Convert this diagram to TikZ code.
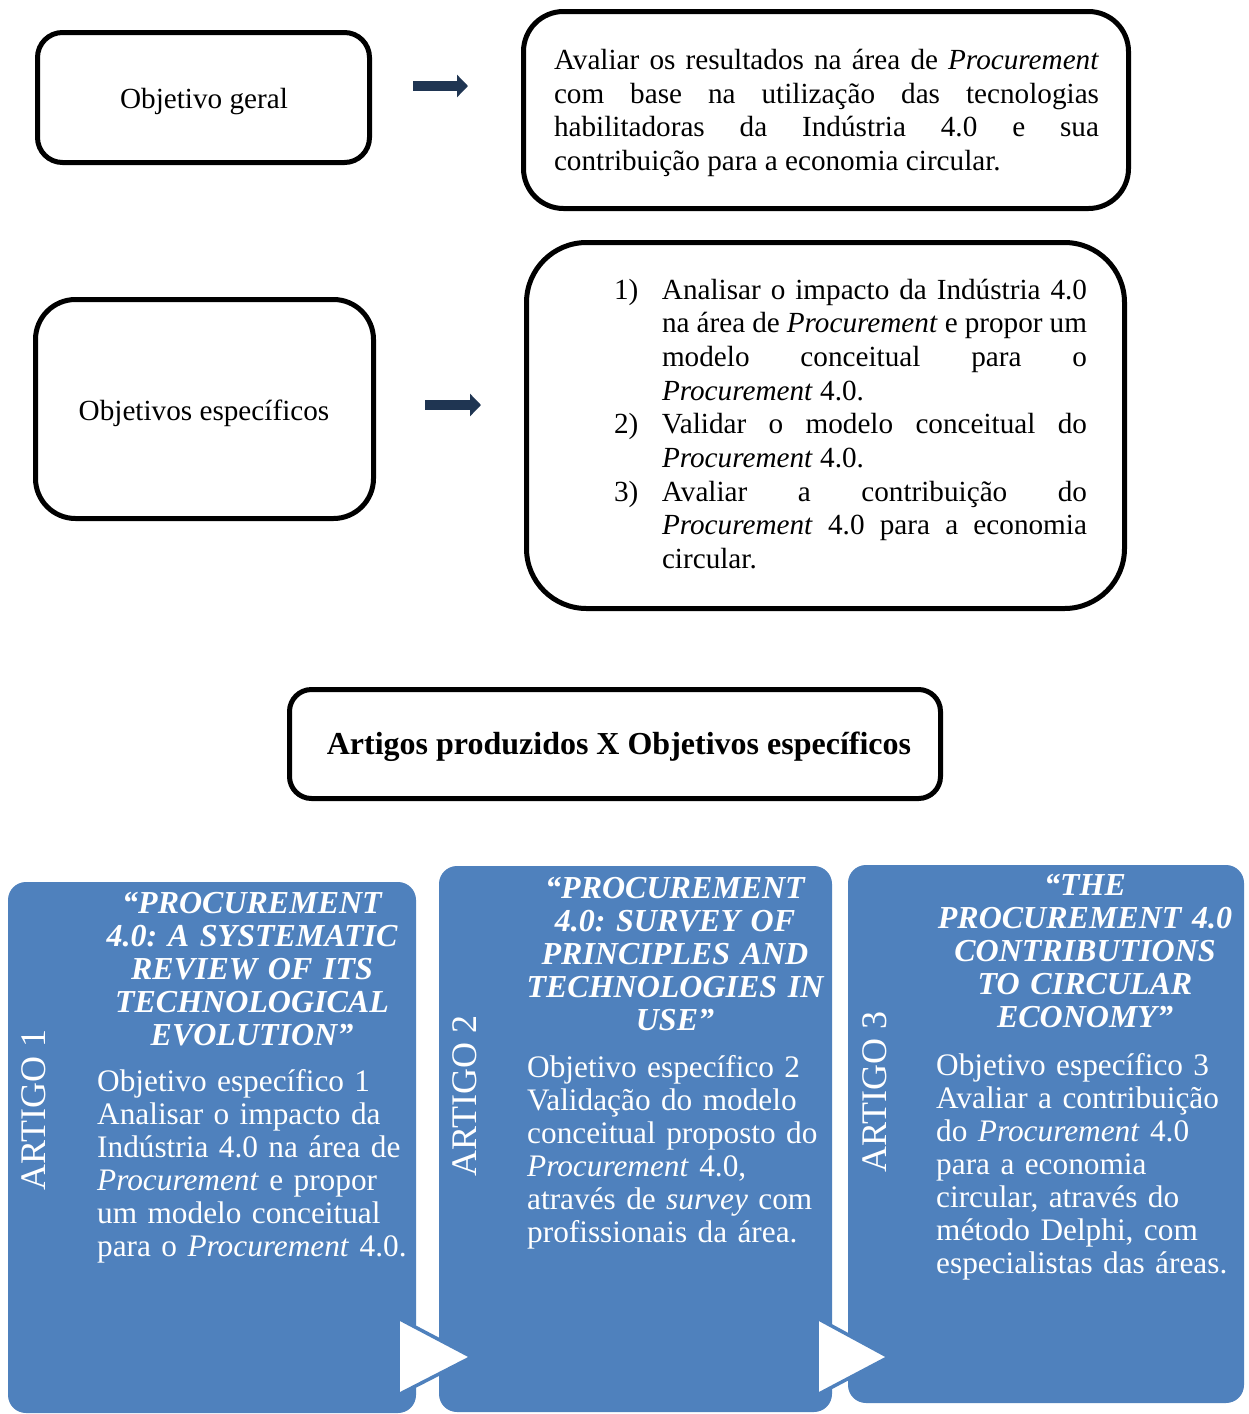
\documentclass[tikz,border=0pt]{standalone}
\usepackage{fontspec}
\setmainfont{Liberation Serif}
\usetikzlibrary{arrows.meta}
\definecolor{panelblue}{HTML}{4F81BD}
\definecolor{arrownavy}{HTML}{1F3552}
\frenchspacing
\begin{document}
\begin{tikzpicture}[x=1pt,y=-1pt,
  obox/.style={draw=black, line width=5pt, fill=white, rounded corners=#1, inner sep=0pt, outer sep=0pt},
  panel/.style={fill=panelblue, rounded corners=18pt, inner sep=0pt, outer sep=0pt},
  bigarrow/.style={draw=arrownavy, line width=10pt, -{Triangle[length=11pt,width=22pt]}},
  tri/.style={fill=white, draw=panelblue, line width=3.5pt, line join=miter},
  toptext/.style={font=\fontsize{29.2}{33.7}\selectfont, inner sep=0pt, outer sep=0pt},
  ptitle/.style={font=\fontsize{32}{33}\selectfont\bfseries\itshape\frenchspacing, text=white, text width=340pt, align=center, inner sep=0pt, anchor=base},
  pbody/.style={font=\fontsize{31.3}{33}\selectfont\frenchspacing, text=white, text width=320pt, align=left, inner sep=0pt, anchor=base west},
  artlabel/.style={font=\fontsize{36}{40}\selectfont, text=white, rotate=90, inner sep=0pt}
]
\useasboundingbox (0,0) rectangle (1249,1414);
\fill[white] (0,0) rectangle (1249,1414);

% top boxes
\node[obox=25pt, minimum width=332pt, minimum height=130pt] (b1) at (203.5,97.5) {};
\node[toptext, anchor=base] (t1) at (204,108) {Objetivo geral};

\node[obox=40pt, minimum width=605pt, minimum height=197pt] (b2) at (826,110) {};
\node[toptext, anchor=base west, text width=545pt, align=justify] (t2) at (554,69.5)
 {Avaliar os resultados na área de \emph{Procurement}\linebreak com base na utilização das tecnologias\linebreak habilitadoras da Indústria 4.0 e sua\linebreak contribuição para a economia circular.};

\node[obox=40pt, minimum width=338pt, minimum height=219pt] (b3) at (204.5,409) {};
\node[toptext, anchor=base] (t3) at (204,420) {Objetivos específicos};

\node[obox=60pt, minimum width=598pt, minimum height=366pt] (b4) at (825.5,425.5) {};
\node[toptext, anchor=base west, text width=425pt, align=justify] (t4) at (662,299)
 {\noindent\llap{\makebox[48pt][l]{1)}}Analisar o impacto da Indústria 4.0\linebreak na área de \emph{Procurement} e propor um\linebreak modelo conceitual para o\linebreak \emph{Procurement} 4.0.\par
  \noindent\llap{\makebox[48pt][l]{2)}}Validar o modelo conceitual do\linebreak \emph{Procurement} 4.0.\par
  \noindent\llap{\makebox[48pt][l]{3)}}Avaliar a contribuição do\linebreak \emph{Procurement} 4.0 para a economia\linebreak circular.};

\coordinate (a1s) at (413,86);
\coordinate (a1e) at (468,86);
\draw[bigarrow] (a1s) -- (a1e);
\coordinate (a2s) at (425,405);
\coordinate (a2e) at (481,405);
\draw[bigarrow] (a2s) -- (a2e);

% heading box
\node[obox=22pt, minimum width=651pt, minimum height=109pt] (b5) at (615,744) {};
\node[font=\fontsize{32}{36}\selectfont\bfseries, anchor=base, inner sep=0pt] (t5) at (619,754) {Artigos produzidos X Objetivos específicos};

% panels
\node[panel, minimum width=408pt, minimum height=531pt] (p1) at (212,1147.5) {};
\node[panel, minimum width=393pt, minimum height=546pt] (p2) at (635.5,1139) {};
\node[panel, minimum width=396pt, minimum height=538pt] (p3) at (1046,1134) {};

\draw[tri] (398,1318) -- (472,1357) -- (398,1395) -- cycle;
\draw[tri] (817,1318) -- (889,1357) -- (817,1395) -- cycle;

\node[artlabel] (l1) at (33.5,1110) {ARTIGO 1};
\node[artlabel] (l2) at (465,1096) {ARTIGO 2};
\node[artlabel] (l3) at (875,1092) {ARTIGO 3};

\node[ptitle] (h1) at (252,913) {“PROCUREMENT\\4.0: A SYSTEMATIC\\REVIEW OF ITS\\TECHNOLOGICAL\\EVOLUTION”};
\node[pbody] (d1) at (97,1091) {Objetivo específico 1\\Analisar o impacto da\\Indústria 4.0 na área de\\\emph{Procurement} e propor\\um modelo conceitual\\para o \emph{Procurement} 4.0.};

\node[ptitle] (h2) at (675,898) {“PROCUREMENT\\4.0: SURVEY OF\\PRINCIPLES AND\\TECHNOLOGIES IN\\USE”};
\node[pbody] (d2) at (527,1077) {Objetivo específico 2\\Validação do modelo\\conceitual proposto do\\\emph{Procurement} 4.0,\\através de \emph{survey} com\\profissionais da área.};

\node[ptitle] (h3) at (1085,895) {“THE\\PROCUREMENT 4.0\\CONTRIBUTIONS\\TO CIRCULAR\\ECONOMY”};
\node[pbody] (d3) at (936,1075) {Objetivo específico 3\\Avaliar a contribuição\\do \emph{Procurement} 4.0\\para a economia\\circular, através do\\método Delphi, com\\especialistas das áreas.};
\end{tikzpicture}
\end{document}
